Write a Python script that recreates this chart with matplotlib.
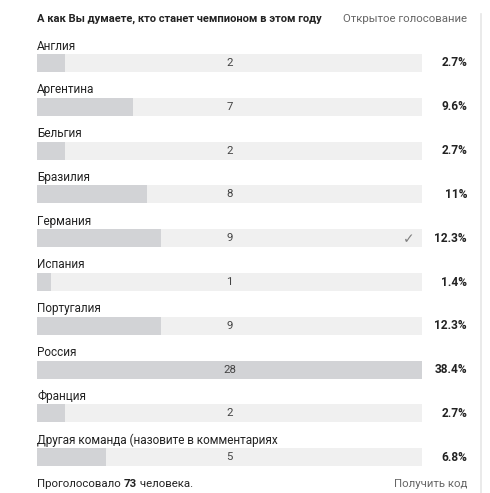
import numpy as np
from matplotlib import pyplot as plt

title = 'А как Вы думаете, кто станет чемпионом в этом году'
poll_type = 'Открытое голосование'
options = ['Англия', 'Аргентина', 'Бельгия', 'Бразилия', 'Германия',
           'Испания', 'Португалия', 'Россия', 'Франция',
           'Другая команда (назовите в комментариях']
votes = [2, 7, 2, 8, 9, 1, 9, 28, 2, 5]
percents = ['2.7%', '9.6%', '2.7%', '11%', '12.3%', '1.4%', '12.3%', '38.4%', '2.7%', '6.8%']
my_vote = 'Германия'
total = 73

plt.rcParams['font.family'] = ['Roboto', 'DejaVu Sans']

W, H = 490, 493
fig = plt.figure(figsize=(W / 100, H / 100), dpi=100)
ax = fig.add_axes([0, 0, 1, 1])
ax.set_xlim(0, W)
ax.set_ylim(H, 0)
ax.axis('off')

left, track_w = 37, 385
row0, step = 63, 43.8
bar_h = 18
scale = track_w / max(votes)
ys = row0 + step * np.arange(len(options))

# tracks + filled bars
ax.barh(ys, [track_w] * len(options), left=left, height=bar_h, color='#f0f0f0')
ax.barh(ys, np.array(votes) * scale, left=left, height=bar_h, color='#d2d3d6')

for y, name, v, p in zip(ys, options, votes, percents):
    ax.text(left, y - 17, name, fontsize=8.5, color='#222222', va='center')
    ax.text(left + track_w / 2, y, str(v), fontsize=8.2, color='#444444',
            ha='center', va='center')
    ax.text(467, y, p, fontsize=8.6, fontweight='bold', color='#222222',
            ha='right', va='center')
    if name == my_vote:
        ax.text(409, y + 1, '✓', fontsize=10, color='#808080', ha='center',
                va='center', family='DejaVu Sans')

ax.text(left, 19, title, fontsize=8.0, fontweight='bold', color='#222222', va='center')
ax.text(467, 19, poll_type, fontsize=8.2, color='#666666', ha='right', va='center')

# footer: "Проголосовало 73 человека." with bold number
fs = 8.2
t1 = ax.text(left, 484, 'Проголосовало ', fontsize=fs, color='#222222', va='center')
fig.canvas.draw()
x1 = ax.transData.inverted().transform((t1.get_window_extent().x1, 0))[0]
t2 = ax.text(x1, 484, str(total), fontsize=fs, fontweight='bold', color='#222222', va='center')
fig.canvas.draw()
x2 = ax.transData.inverted().transform((t2.get_window_extent().x1, 0))[0]
ax.text(x2, 484, ' человека.', fontsize=fs, color='#222222', va='center')
ax.text(467, 484, 'Получить код', fontsize=8.2, color='#666666', ha='right', va='center')

ax.plot([481, 481], [14, H], color='#e6e6e6', lw=1.2)

fig.savefig('out.png', dpi=100, facecolor='white')
